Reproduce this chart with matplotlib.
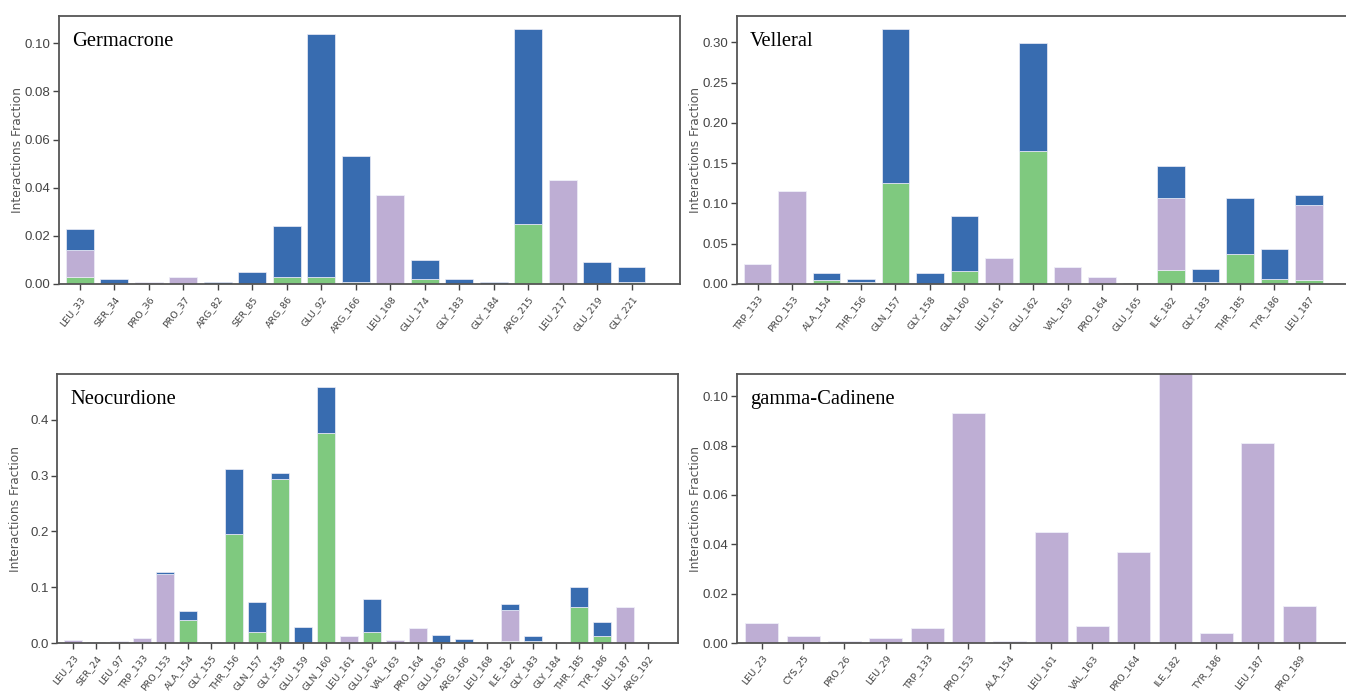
import numpy as np
import matplotlib
matplotlib.use("Agg")
import matplotlib.pyplot as plt
from matplotlib.ticker import MultipleLocator, FormatStrFormatter

# protein-ligand contact fractions per residue (H-bonds, hydrophobic, water bridges)
germ_res = ['LEU_33', 'SER_34', 'PRO_36', 'PRO_37', 'ARG_82', 'SER_85', 'ARG_86', 'GLU_92',
            'ARG_166', 'LEU_168', 'GLU_174', 'GLY_183', 'GLY_184', 'ARG_215', 'LEU_217',
            'GLU_219', 'GLY_221']
germ_hbond = [0.003, 0, 0, 0, 0, 0, 0.003, 0.003, 0.001, 0, 0.002, 0, 0, 0.025, 0, 0, 0.001]
germ_hydro = [0.011, 0, 0.001, 0.003, 0, 0, 0, 0, 0, 0.037, 0, 0, 0, 0, 0.043, 0, 0]
germ_water = [0.009, 0.002, 0, 0, 0.001, 0.005, 0.021, 0.101, 0.052, 0, 0.008, 0.002, 0.001,
              0.081, 0, 0.009, 0.006]

vell_res = ['TRP_133', 'PRO_153', 'ALA_154', 'THR_156', 'GLN_157', 'GLY_158', 'GLN_160',
            'LEU_161', 'GLU_162', 'VAL_163', 'PRO_164', 'GLU_165', 'ILE_182', 'GLY_183',
            'THR_185', 'TYR_186', 'LEU_187']
vell_hbond = [0, 0, 0.005, 0.002, 0.126, 0, 0.016, 0, 0.165, 0, 0, 0, 0.018, 0.002, 0.037,
              0.006, 0.005]
vell_hydro = [0.025, 0.116, 0, 0, 0, 0, 0, 0.032, 0, 0.021, 0.009, 0, 0.089, 0, 0, 0, 0.093]
vell_water = [0, 0, 0.009, 0.004, 0.191, 0.014, 0.069, 0, 0.134, 0, 0, 0.0015, 0.039, 0.017,
              0.070, 0.037, 0.012]

neo_res = ['LEU_23', 'SER_24', 'LEU_97', 'TRP_133', 'PRO_153', 'ALA_154', 'GLY_155', 'THR_156',
           'GLN_157', 'GLY_158', 'GLU_159', 'GLN_160', 'LEU_161', 'GLU_162', 'VAL_163',
           'PRO_164', 'GLU_165', 'ARG_166', 'LEU_168', 'ILE_182', 'GLY_183', 'GLY_184',
           'THR_185', 'TYR_186', 'LEU_187', 'ARG_192']
neo_hbond = [0, 0, 0, 0, 0, 0.042, 0, 0.196, 0.019, 0.293, 0, 0.376, 0, 0.020, 0, 0, 0, 0, 0,
             0.004, 0.003, 0, 0.064, 0.012, 0, 0]
neo_hydro = [0.006, 0, 0.004, 0.009, 0.124, 0, 0, 0, 0, 0, 0, 0, 0.013, 0, 0.006, 0.026, 0, 0,
             0, 0.055, 0, 0, 0, 0, 0.064, 0]
neo_water = [0, 0.002, 0, 0, 0.004, 0.016, 0.001, 0.115, 0.054, 0.011, 0.028, 0.083, 0, 0.059,
             0, 0, 0.014, 0.008, 0, 0.011, 0.009, 0.001, 0.036, 0.025, 0, 0.001]

cad_res = ['LEU_23', 'CYS_25', 'PRO_26', 'LEU_29', 'TRP_133', 'PRO_153', 'ALA_154', 'LEU_161',
           'VAL_163', 'PRO_164', 'ILE_182', 'TYR_186', 'LEU_187', 'PRO_189']
cad_hydro = [0.008, 0.003, 0.001, 0.002, 0.006, 0.093, 0.001, 0.045, 0.007, 0.037, 0.112,
             0.004, 0.081, 0.015]

GREEN = '#7fc97f'
PURPLE = '#beaed4'
BLUE = '#386cb0'
W, H = 1346, 691


def px_axes(fig, left, right, top, bottom):
    return fig.add_axes([left / W, 1 - bottom / H, (right - left) / W, (bottom - top) / H])


def contact_panel(ax, name, res, hbond, hydro, water, xpad, ystep, ytop=None):
    x = np.arange(len(res))
    hb = np.array(hbond, dtype=float)
    hy = np.array(hydro, dtype=float)
    wb = np.array(water, dtype=float)
    kw = dict(width=0.8, edgecolor='#eeeef8', linewidth=0.5)
    ax.bar(x, hb, color=GREEN, **kw)
    ax.bar(x, hy, bottom=hb, color=PURPLE, **kw)
    ax.bar(x, wb, bottom=hb + hy, color=BLUE, **kw)
    ax.set_xlim(-xpad, len(res) + 0.4 - (xpad - 0.6))
    if ytop is not None:
        ax.set_ylim(0, ytop)
    ax.yaxis.set_major_locator(MultipleLocator(ystep))
    dec = 1 if ystep >= 0.1 else 2
    ax.yaxis.set_major_formatter(FormatStrFormatter(f'%.{dec}f'))
    ax.set_xticks(x)
    ax.set_xticklabels(res, rotation=52, ha='right', rotation_mode='anchor',
                       fontsize=6.8, color='#333333')
    for lab in ax.get_yticklabels():
        lab.set_family('Liberation Sans')
        lab.set_fontsize(9.5)
        lab.set_color('#333333')
    ax.tick_params(colors='#444444', length=4, width=1)
    ax.tick_params(axis='y', pad=2)
    for s in ax.spines.values():
        s.set_color('#555555')
        s.set_linewidth(1.3)
    ax.set_ylabel('Interactions Fraction', fontsize=8.8, color='#555555')
    ax.yaxis.set_label_coords(-0.057, 0.5)
    ax.text(0.021, 0.94, name, transform=ax.transAxes, ha='left', va='top',
            family='Liberation Serif', fontsize=14.8)


fig = plt.figure(figsize=(W / 100, H / 100), dpi=100)

ax1 = px_axes(fig, 59, 680, 16, 284)
contact_panel(ax1, 'Germacrone', germ_res, germ_hbond, germ_hydro, germ_water, 0.6, 0.02)

ax2 = px_axes(fig, 737, 1357, 16, 284)
contact_panel(ax2, 'Velleral', vell_res, vell_hbond, vell_hydro, vell_water, 0.6, 0.05)

ax3 = px_axes(fig, 57, 678, 374, 643)
contact_panel(ax3, 'Neocurdione', neo_res, neo_hbond, neo_hydro, neo_water, 0.7, 0.1)

ax4 = px_axes(fig, 737, 1357, 374, 643)
zeros = [0] * len(cad_res)
contact_panel(ax4, 'gamma-Cadinene', cad_res, zeros, cad_hydro, zeros, 0.6, 0.02, ytop=0.109)

fig.savefig('out.png', dpi=100)
